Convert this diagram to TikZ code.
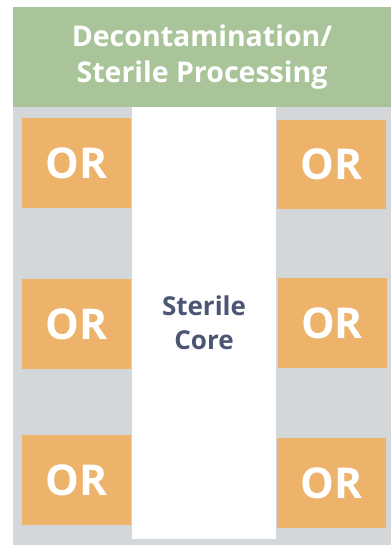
\documentclass[tikz,border=0pt]{standalone}
\usepackage{fontspec}
\setmainfont{Open Sans}
\definecolor{hdrGreen}{RGB}{170,196,154}
\definecolor{orOrange}{RGB}{237,179,107}
\definecolor{wallGray}{RGB}{211,215,218}
\definecolor{coreBlue}{RGB}{74,86,116}
\tikzstyle{hS}=[fill=hdrGreen,minimum width=378pt,minimum height=100pt,inner sep=0pt,text=white,font=\fontsize{28.5}{36}\selectfont\bfseries,align=center]
\tikzstyle{oS}=[fill=orOrange,minimum width=109pt,minimum height=90pt,inner sep=0pt,text=white,font=\fontsize{42.5}{42.5}\selectfont\bfseries]
\tikzstyle{cS}=[fill=white,minimum width=144pt,minimum height=432pt,inner sep=0pt,text=coreBlue,font=\fontsize{26}{34}\selectfont\bfseries,align=center]
\begin{document}
\begin{tikzpicture}[x=1pt,y=-1pt]
                \useasboundingbox (0,0) rectangle (391,545);
                \fill[wallGray] (13,107) rectangle (391,545);
                \draw (202,57) node[hS] (dsp) {Decontamination/\\Sterile Processing};
                \draw (204,323) node[cS] (core) {Sterile\\Core};
                % left side
                \draw (76.5,163) node[oS] (orL1) {OR};
                \draw (76.5,324) node[oS] (orL2) {OR};
                \draw (76.5,480) node[oS] (orL3) {OR};
                % right side
                \draw (331.5,164.5) node[oS,minimum height=89pt] (orR1) {OR};
                \draw (332,323) node[oS] (orR2) {OR};
                \draw (331.5,483) node[oS] (orR3) {OR};
        \end{tikzpicture}
\end{document}
